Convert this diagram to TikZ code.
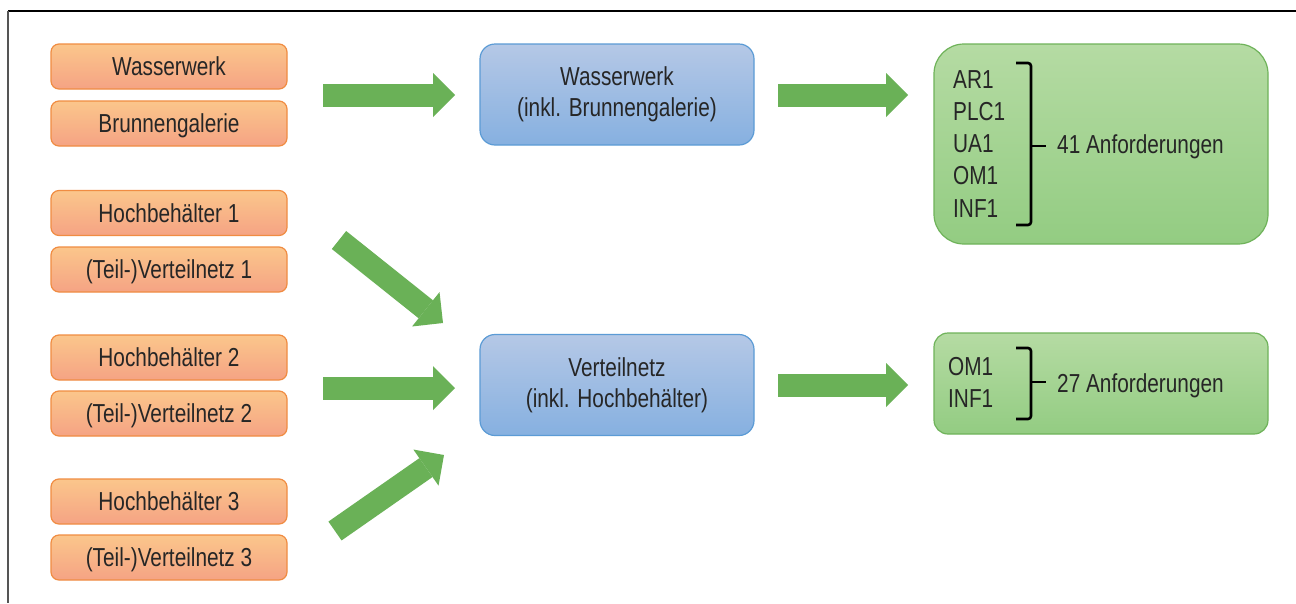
\documentclass[tikz,border=0pt]{standalone}
\usepackage{fontspec}
\setmainfont{Liberation Sans}[FakeStretch=0.8]
\usetikzlibrary{arrows.meta}
\definecolor{txt}{HTML}{262626}
\definecolor{orT}{HTML}{FBC68B}
\definecolor{orB}{HTML}{F5A384}
\definecolor{orD}{HTML}{F08C42}
\definecolor{blT}{HTML}{B5C8E6}
\definecolor{blB}{HTML}{86B0E0}
\definecolor{blD}{HTML}{5B9BD5}
\definecolor{grT}{HTML}{B5DBA3}
\definecolor{grB}{HTML}{93CC82}
\definecolor{grD}{HTML}{6FB35A}
\definecolor{arr}{HTML}{6AB157}
\definecolor{frame}{HTML}{555555}
\begin{document}
\begin{tikzpicture}[x=1pt,y=-1pt,
  lbl/.style={text=txt,font=\fontsize{26}{31}\selectfont,inner sep=0pt},
  obox/.style={draw=orD,line width=1.2pt,rounded corners=8pt,top color=orT,bottom color=orB,
    minimum width=236pt,minimum height=45pt,text=txt,font=\fontsize{26}{31}\selectfont,
    inner sep=0pt,text height=18.5pt,text depth=0pt},
  bbox/.style={draw=blD,line width=1.2pt,rounded corners=15pt,top color=blT,bottom color=blB,
    minimum width=274pt,minimum height=101pt,text=txt,font=\fontsize{26}{31}\selectfont,
    inner sep=0pt,align=center},
  gbox/.style={draw=grD,line width=1.2pt,top color=grT,bottom color=grB,
    minimum width=334pt,inner sep=0pt},
  bigarrow/.style={draw=arr,line width=23pt,-{Triangle[length=22pt,width=44pt,line width=0pt]}},
  brace/.style={draw=black,line width=2.6pt,rounded corners=3pt}]
\useasboundingbox (0,0) rectangle (1296,603);
\fill[white] (0,0) rectangle (1296,603);
% frame
\coordinate (fTL) at (8,11);
\coordinate (fTR) at (1296,11);
\coordinate (fBL) at (8,603);
\draw[black,line width=1.4pt] (fTL) -- (fTR);
\draw[frame,line width=2pt] (fTL) -- (fBL);
% orange boxes
\node[obox] (o1) at (169,66.5) {Wasserwerk};
\node[obox] (o2) at (169,123.5) {Brunnengalerie};
\node[obox] (o3) at (169,213) {Hochbehälter 1};
\node[obox] (o4) at (169,269.5) {(Teil-)Verteilnetz 1};
\node[obox] (o5) at (169,357.5) {Hochbehälter 2};
\node[obox] (o6) at (169,413.5) {(Teil-)Verteilnetz 2};
\node[obox] (o7) at (169,501.5) {Hochbehälter 3};
\node[obox] (o8) at (169,557.5) {(Teil-)Verteilnetz 3};
% blue boxes
\node[bbox] (b1) at (617,94.5) {Wasserwerk\\(inkl. Brunnengalerie)};
\node[bbox] (b2) at (617,385) {Verteilnetz\\(inkl. Hochbehälter)};
% green boxes
\node[gbox,rounded corners=30pt,minimum height=200pt] (g1) at (1101,144) {};
\node[gbox,rounded corners=14pt,minimum height=101pt] (g2) at (1101,383.5) {};
% list texts
\foreach \t [count=\i] in {AR1,PLC1,UA1,OM1,INF1}
  \node[lbl,anchor=base west] (r\i) at (953,{88+32.3*(\i-1)}) {\t};
\node[lbl,anchor=base west] (n41) at (1057,153) {41 Anforderungen};
\node[lbl,anchor=base west] (s1) at (948,375) {OM1};
\node[lbl,anchor=base west] (s2) at (948,407) {INF1};
\node[lbl,anchor=base west] (n27) at (1057,392) {27 Anforderungen};
% braces
\coordinate (br1a) at (1016,63);
\coordinate (br1b) at (1016,225);
\coordinate (br1m) at (1031,146);
\draw[brace] (br1a) -| (1031,225) -- (br1b);
\draw[brace] (br1m) -- (1046,146);
\coordinate (br2a) at (1016,348);
\coordinate (br2b) at (1016,419);
\coordinate (br2m) at (1031,382);
\draw[brace] (br2a) -| (1031,419) -- (br2b);
\draw[brace] (br2m) -- (1046,382);
% arrows
\coordinate (a1s) at (323,95);  \coordinate (a1e) at (455,95);
\coordinate (a2s) at (778,95);  \coordinate (a2e) at (908,95);
\coordinate (a3s) at (339,240); \coordinate (a3e) at (443,323);
\coordinate (a4s) at (323,388); \coordinate (a4e) at (455,388);
\coordinate (a5s) at (335,531); \coordinate (a5e) at (444,455);
\coordinate (a6s) at (778,385); \coordinate (a6e) at (908,385);
\foreach \k in {1,...,6} \draw[bigarrow] (a\k s) -- (a\k e);
\end{tikzpicture}
\end{document}
